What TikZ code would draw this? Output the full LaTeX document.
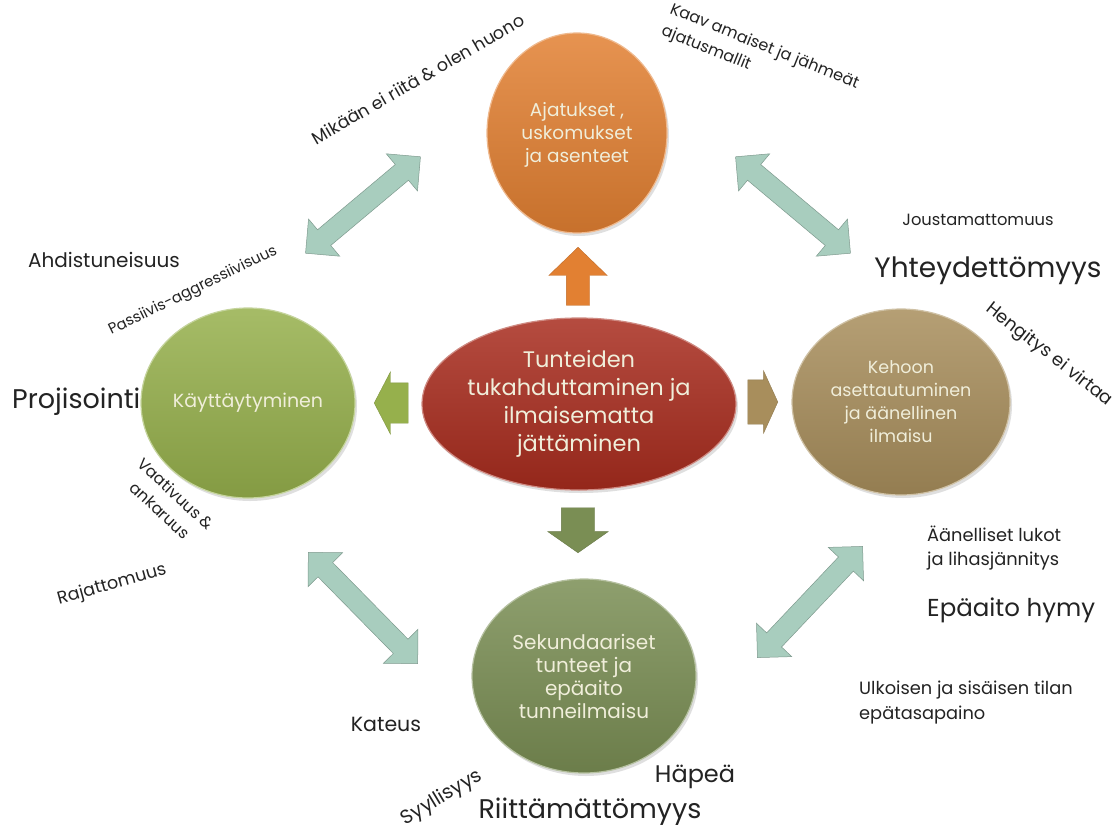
\documentclass[tikz,border=0pt]{standalone}
\usepackage{fontspec}
\setmainfont{Poppins}
\usepackage{xcolor}
\usetikzlibrary{shapes.geometric,shapes.arrows,shadows,positioning}

\definecolor{thinkc}{RGB}{226,128,50}
\definecolor{corec}{RGB}{168,44,30}
\definecolor{actc}{RGB}{150,176,76}
\definecolor{bodyc}{RGB}{168,142,92}
\definecolor{feelc}{RGB}{122,142,84}
\definecolor{linkc}{RGB}{168,205,190}
\definecolor{inkc}{RGB}{35,35,35}
\definecolor{creamc}{RGB}{240,238,218}
\newcommand\fsz[2]{\fontsize{#1}{#2}\selectfont}

\begin{document}
\begin{tikzpicture}[
  x=1pt,y=-1pt,
  bubble/.style={ellipse,inner sep=0pt,draw=#1!55!white,line width=1.2pt,
    top color=#1!85!white,bottom color=#1!88!black,
    drop shadow={shadow xshift=2pt,shadow yshift=-3pt,opacity=.25}},
  inside/.style={text=creamc,align=center,inner sep=0pt},
  flow/.style={single arrow,inner xsep=0pt,fill=#1,draw=#1!85!black,line width=.4pt},
  link/.style={double arrow,inner xsep=0pt,inner ysep=10pt,fill=linkc,draw=linkc!75!black,
    line width=.5pt,minimum width=48pt,double arrow head extend=14pt,
    double arrow tip angle=90},
  note/.style={text=inkc,inner sep=1pt}
]
\path[use as bounding box,fill=white] (0,0) rectangle (1118,832);

% the five bubbles
\node[bubble=corec,minimum width=314pt,minimum height=172pt] (core) at (579,404) {};
\node[bubble=thinkc,minimum width=180pt,minimum height=200pt] (think) at (577,133) {};
\node[bubble=actc,minimum width=214pt,minimum height=190pt] (act) at (248,403) {};
\node[bubble=bodyc,minimum width=218pt,minimum height=186pt] (body) at (901,402) {};
\node[bubble=feelc,minimum width=224pt,minimum height=194pt] (feel) at (584,676) {};

\node[inside,font=\fsz{22.5}{28}] (core-text) at (core) {Tunteiden\\tukahduttaminen ja\\ilmaisematta\\jättäminen};
\node[inside,font=\fsz{18.5}{23}] (think-text) at (577,135) {Ajatukset ,\\uskomukset\\ja asenteet};
\node[inside,font=\fsz{19}{23}] (act-text) at (act) {Käyttäytyminen};
\node[inside,font=\fsz{17.5}{23}] (body-text) at (body) {Kehoon\\asettautuminen\\ja äänellinen\\ilmaisu};
\node[inside,font=\fsz{20}{23}] (feel-text) at (feel) {Sekundaariset\\tunteet ja\\epäaito\\tunneilmaisu};

% block arrows out of the core
\node[flow=thinkc,inner ysep=11.5pt,minimum height=58pt,minimum width=58pt,
  single arrow head extend=17.5pt,single arrow tip angle=92,rotate=90,anchor=tip] (to-think) at (578,247) {};
\node[flow=actc,inner ysep=20pt,minimum height=34pt,minimum width=62pt,
  single arrow head extend=11pt,single arrow tip angle=125,rotate=180,anchor=tip] (to-act) at (374,403) {};
\node[flow=bodyc,inner ysep=22pt,minimum height=30pt,minimum width=62pt,
  single arrow head extend=9pt,single arrow tip angle=131,anchor=tip] (to-body) at (778,402) {};
\node[flow=feelc,inner ysep=16.5pt,minimum height=45pt,minimum width=60pt,
  single arrow head extend=13.5pt,single arrow tip angle=110,rotate=-90,anchor=tip] (to-feel) at (578,553) {};

% two-way arrows round the ring
\node[link,minimum height=150pt,rotate=40] (think-act) at (363,205) {};
\node[link,minimum height=150pt,rotate=-40] (think-body) at (793,205) {};
\node[link,minimum height=156pt,rotate=-45.5] (act-feel) at (363,608) {};
\node[link,minimum height=153pt,rotate=46.6] (body-feel) at (810,602) {};

% labels
\node[note,font=\fsz{17.5}{20},rotate=30] (never-enough) at (418,79) {Mikään ei riitä \& olen huono};
\node[note,font=\fsz{16}{23},rotate=-22,align=left] (rigid) at (760,58) {Kaav amaiset ja jähmeät\\ajatusmallit};
\node[note,font=\fsz{20}{24}] (anxiety) at (104,260) {Ahdistuneisuus};
\node[note,font=\fsz{15}{18},rotate=26] (passive) at (193,291) {Passiivis-aggressiivisuus};
\node[note,font=\fsz{27}{30},anchor=west] (projection) at (11,402) {Projisointi};
\node[note,font=\fsz{16}{23},rotate=-43,align=center] (strict) at (168,502) {Vaativuus \&\\ankaruus};
\node[note,font=\fsz{17.5}{20},rotate=15.5] (boundless) at (112,585) {Rajattomuus};
\node[note,font=\fsz{16.3}{20}] (inflexible) at (978,220) {Joustamattomuus};
\node[note,font=\fsz{28}{30}] (disconnect) at (988,271) {Yhteydettömyys};
\node[note,font=\fsz{18}{20},rotate=-38] (breath) at (1049,355) {Hengitys ei virtaa};
\node[note,font=\fsz{17.8}{24},align=left,anchor=west] (voice-locks) at (926,548) {Äänelliset lukot\\ja lihasjännitys};
\node[note,font=\fsz{24.5}{28},anchor=west] (fake-smile) at (926,610) {Epäaito hymy};
\node[note,font=\fsz{17.8}{25},align=left,anchor=west] (imbalance) at (858,703) {Ulkoisen ja sisäisen tilan\\epätasapaino};
\node[note,font=\fsz{20.5}{24}] (envy) at (386,724) {Kateus};
\node[note,font=\fsz{19.5}{22},rotate=31] (guilt) at (442,798) {Syyllisyys};
\node[note,font=\fsz{24}{28}] (shame) at (695,777) {Häpeä};
\node[note,font=\fsz{27}{30}] (inadequacy) at (590,812) {Riittämättömyys};
\end{tikzpicture}
\end{document}
